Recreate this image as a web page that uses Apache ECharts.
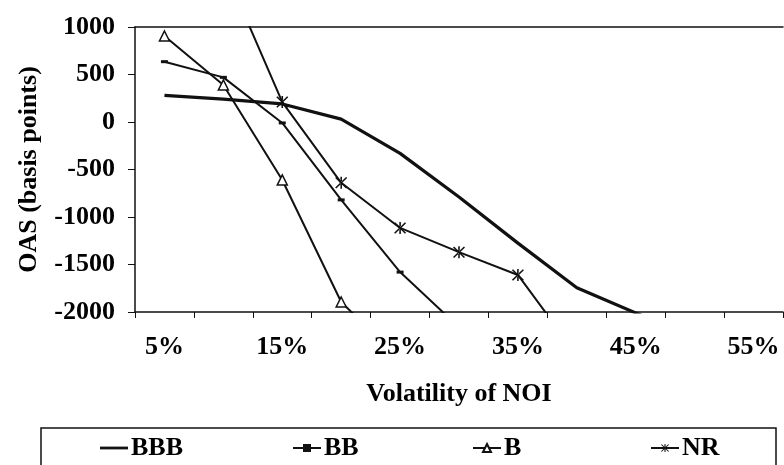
<!DOCTYPE html>
<html>
<head>
<meta charset="utf-8">
<script src="https://cdn.jsdelivr.net/npm/echarts@6/dist/echarts.min.js"></script>
<style>
html,body{margin:0;padding:0;background:#fff;}
#c{width:784px;height:465px;}
</style>
</head>
<body>
<div id="c"></div>
<script>
var categories = ['5%','10%','15%','20%','25%','30%','35%','40%','45%','50%','55%'];
var yTicks = [-2000,-1500,-1000,-500,0,500,1000];
var BBB = [280, 240, 190, 30, -330, -790, -1275, -1745, -2010, -2260, null];
var BB  = [635, 470, -10, -820, -1580, -2160, null, null, null, null, null];
var B   = [905, 390, -610, -1895, -2500, null, null, null, null, null, null];
var NR  = [null, 1640, 210, -640, -1115, -1370, -1610, -2450, null, null, null];

var FONT = 'Liberation Serif';
var ink = '#111';
var star = 'path://M-1,-8 L1,-8 L1,8 L-1,8 Z M-6.3,-7.7 L7.7,6.3 L6.3,7.7 L-7.7,-6.3 Z M-6.3,7.7 L7.7,-6.3 L6.3,-7.7 L-7.7,6.3 Z';

var chart = echarts.init(document.getElementById('c'));
var FS = 26;
var txt = {fontFamily: FONT, fontWeight: 'bold', fontSize: FS, color: '#000'};
function legendAt(item, left) {
  return {
    data: [item], left: left, top: 435, padding: 0, itemWidth: 28, itemHeight: 10,
    selectedMode: false,
    textStyle: {fontFamily: FONT, fontWeight: 'bold', fontSize: FS, color: '#000', padding: [0, 0, 0, -2]}
  };
}
chart.setOption({
  animation: false,
  backgroundColor: '#fff',
  grid: {left: 135, right: 1, top: 27, bottom: 153},
  xAxis: [{
    type: 'category', data: categories, boundaryGap: true,
    name: 'Volatility of NOI', nameLocation: 'middle', nameGap: 69,
    nameTextStyle: txt,
    axisLine: {onZero: false, lineStyle: {color: ink, width: 1.5}},
    axisTick: {show: true, interval: 0, length: 6, inside: false, lineStyle: {color: ink}},
    axisLabel: Object.assign({interval: 1, margin: 22}, txt),
    splitLine: {show: false}
  }, {
    type: 'category', data: categories, position: 'top',
    axisLine: {onZero: false, lineStyle: {color: ink, width: 1.5}},
    axisTick: {show: false}, axisLabel: {show: false}, splitLine: {show: false}
  }],
  yAxis: {
    type: 'value', min: yTicks[0], max: yTicks[yTicks.length - 1], interval: 500,
    name: 'OAS (basis points)', nameLocation: 'middle', nameGap: 93, nameRotate: 90,
    nameTextStyle: txt,
    axisLine: {show: true, lineStyle: {color: ink, width: 1.5}},
    axisTick: {show: true, length: 7, lineStyle: {color: ink}},
    axisLabel: Object.assign({margin: 20, padding: [0, 0, 6, 0], formatter: function (v) { return String(v); }}, txt),
    splitLine: {show: false}
  },
  legend: [
    legendAt({name: 'BBB', icon: 'path://M0,0 L30,0 L30,3 L0,3 Z', itemStyle: {color: ink}}, 100),
    legendAt('BB', 292),
    legendAt('B', 472),
    legendAt('NR', 650)
  ],
  graphic: [{
    type: 'rect', shape: {x: 41, y: 428, width: 735, height: 60},
    style: {fill: 'none', stroke: ink, lineWidth: 1.5}
  }],
  series: [
    {name: 'BBB', type: 'line', data: BBB, symbol: 'none', clip: true,
     lineStyle: {color: ink, width: 3.2}, itemStyle: {color: ink}},
    {name: 'BB', type: 'line', data: BB, symbol: 'rect', symbolSize: [7, 3], clip: true,
     lineStyle: {color: ink, width: 2}, itemStyle: {color: ink}},
    {name: 'B', type: 'line', data: B, symbol: 'triangle', symbolSize: 10, clip: true,
     lineStyle: {color: ink, width: 2}, itemStyle: {color: '#fff', borderColor: ink, borderWidth: 1.5}},
    {name: 'NR', type: 'line', data: NR, symbol: star, symbolSize: 12, clip: true,
     lineStyle: {color: ink, width: 2}, itemStyle: {color: ink}}
  ]
});
</script>
</body>
</html>
